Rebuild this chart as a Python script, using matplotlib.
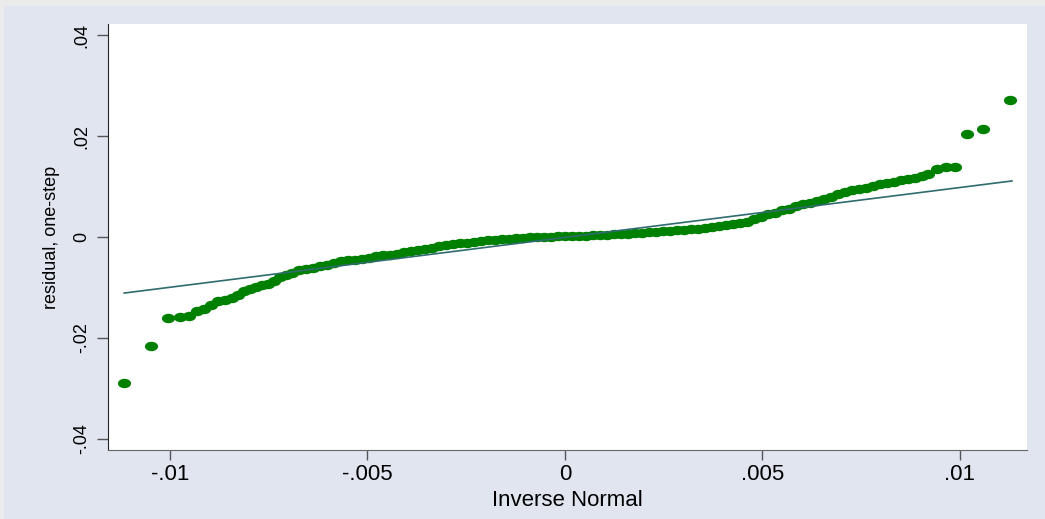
import numpy as np
import matplotlib
matplotlib.use("Agg")
import matplotlib.pyplot as plt
from matplotlib.path import Path
from matplotlib.patches import Rectangle

# ── data (qnorm of one-step residuals) ──
# lower tail (sparse points)
low_x = [-0.01116, -0.01048, -0.01005, -0.00975, -0.00952, -0.00932]
low_y = [-0.02891, -0.02149, -0.01604, -0.01594, -0.01564, -0.01465]

# dense body of the plot
body_x = [-0.00914, -0.00896, -0.00878, -0.00861, -0.00843, -0.00828, -0.00813,
          -0.00797, -0.00782, -0.00767, -0.00752, -0.00737, -0.00722, -0.00706,
          -0.00691, -0.00673, -0.00656, -0.00638, -0.00620, -0.00603, -0.00585,
          -0.00567, -0.00549, -0.00532, -0.00514, -0.00496, -0.00478, -0.00461,
          -0.00443, -0.00425, -0.00408, -0.00390, -0.00372, -0.00354, -0.00337,
          -0.00319, -0.00301, -0.00284, -0.00266, -0.00248, -0.00230, -0.00213,
          -0.00195, -0.00177, -0.00159, -0.00142, -0.00124, -0.00106, -0.00089,
          -0.00071, -0.00053, -0.00035, -0.00018, 0.0, 0.00018, 0.00035, 0.00053,
          0.00071, 0.00089, 0.00106, 0.00124, 0.00142, 0.00159, 0.00177, 0.00195,
          0.00213, 0.00230, 0.00248, 0.00266, 0.00284, 0.00301, 0.00319, 0.00337,
          0.00354, 0.00372, 0.00390, 0.00408, 0.00425, 0.00443, 0.00461, 0.00478,
          0.00496, 0.00514, 0.00532, 0.00549, 0.00567, 0.00585, 0.00603, 0.00620,
          0.00638, 0.00656, 0.00673, 0.00691, 0.00709, 0.00727, 0.00744, 0.00762,
          0.00780, 0.00797, 0.00815, 0.00833, 0.00851, 0.00868, 0.00886, 0.00904,
          0.00919]
body_y = [-0.01416, -0.01337, -0.01267, -0.01238, -0.01208, -0.01139, -0.01069,
          -0.01020, -0.00990, -0.00960, -0.00921, -0.00871, -0.00802, -0.00743,
          -0.00703, -0.00663, -0.00634, -0.00604, -0.00574, -0.00545, -0.00515,
          -0.00485, -0.00465, -0.00446, -0.00426, -0.00406, -0.00386, -0.00366,
          -0.00347, -0.00327, -0.00303, -0.00277, -0.00253, -0.00230, -0.00208,
          -0.00186, -0.00164, -0.00145, -0.00127, -0.00109, -0.00093, -0.00079,
          -0.00065, -0.00053, -0.00042, -0.00032, -0.00022, -0.00014, -0.00006,
          0.0, 0.00004, 0.00008, 0.00012, 0.00016, 0.00020, 0.00024, 0.00028,
          0.00034, 0.00040, 0.00046, 0.00053, 0.00059, 0.00067, 0.00075, 0.00083,
          0.00091, 0.00099, 0.00109, 0.00119, 0.00129, 0.00139, 0.00150, 0.00164,
          0.00178, 0.00194, 0.00212, 0.00232, 0.00253, 0.00277, 0.00305, 0.00347,
          0.00396, 0.00446, 0.00485, 0.00525, 0.00564, 0.00604, 0.00644, 0.00683,
          0.00717, 0.00752, 0.00792, 0.00842, 0.00891, 0.00931, 0.00956, 0.00980,
          0.01010, 0.01040, 0.01069, 0.01099, 0.01129, 0.01152, 0.01178, 0.01202,
          0.01238]

# upper tail (sparse points)
high_x = [0.00942, 0.00965, 0.00987, 0.01018, 0.01058, 0.01127]
high_y = [0.01347, 0.01386, 0.01386, 0.02040, 0.02139, 0.02713]

# reference line (y = x between the extreme quantiles)
ref_x = [-0.01116, 0.01132]
ref_y = [-0.01110, 0.01110]

xticks = [-0.01, -0.005, 0, 0.005, 0.01]
xtick_labels = ["-.01", "-.005", "0", ".005", ".01"]
yticks = [-0.04, -0.02, 0, 0.02, 0.04]
ytick_labels = ["-.04", "-.02", "0", ".02", ".04"]

BG = "#e1e5f0"
GREEN = "#008000"
LINE = "#2f6b6e"

plt.rcParams["font.family"] = ["Liberation Sans", "DejaVu Sans"]

fig = plt.figure(figsize=(10.45, 5.19), dpi=100, facecolor=BG)
# thin grey screenshot border along top and left
fig.patches.append(Rectangle((0, 1 - 5.5 / 519), 1, 5.5 / 519, transform=fig.transFigure,
                             facecolor="#ebebeb", edgecolor="none", zorder=0))
fig.patches.append(Rectangle((0, 0), 3.5 / 1045, 1, transform=fig.transFigure,
                             facecolor="#ebebeb", edgecolor="none", zorder=0))

ax = fig.add_axes([108 / 1045, 69 / 519, 919 / 1045, 426 / 519])
ax.set_facecolor("white")

# Stata-like wide dot
circ = Path.unit_circle()
dot = Path(circ.vertices * np.array([1.4, 1.0]), circ.codes)

all_x = low_x + body_x + high_x
all_y = low_y + body_y + high_y
ax.plot(all_x, all_y, linestyle="none", marker=dot, markersize=9.5,
        markerfacecolor=GREEN, markeredgecolor=GREEN, markeredgewidth=0, zorder=2)
ax.plot(ref_x, ref_y, color=LINE, linewidth=1.2, zorder=3)

ax.set_xlim(-0.01157, 0.0117)
ax.set_ylim(-0.04218, 0.04218)

ax.set_xticks(xticks)
ax.set_xticklabels(xtick_labels, fontsize=16)
ax.set_yticks(yticks)
ax.set_yticklabels(ytick_labels, fontsize=13, rotation=90, va="center")

ax.tick_params(axis="x", length=7, width=1, color="#555555", pad=3)
ax.tick_params(axis="y", length=8, width=1, color="#555555", pad=5)

for side in ["top", "right"]:
    ax.spines[side].set_visible(False)
ax.spines["left"].set_color("#222222")
ax.spines["bottom"].set_color("#666666")

ax.set_xlabel("Inverse Normal", fontsize=16, labelpad=0)
ax.xaxis.set_label_coords(0.5, -0.093)
ax.set_ylabel("residual, one-step", fontsize=13)
ax.yaxis.set_label_coords(-0.052, 0.5)

fig.savefig("out.png", dpi=100, facecolor=BG)
